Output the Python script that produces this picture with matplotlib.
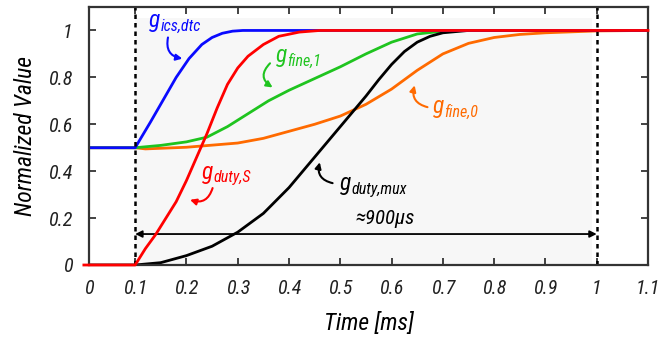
import matplotlib
matplotlib.use("Agg")
import matplotlib.pyplot as plt
from matplotlib.patches import Rectangle

FONT = ['Roboto Condensed', 'DejaVu Sans']
plt.rcParams['font.family'] = FONT
plt.rcParams['font.style'] = 'italic'

# ---- data (time in ms, normalized value) ----
t_ics = [0.0, 0.1, 0.13, 0.155, 0.18, 0.205, 0.23, 0.25, 0.27, 0.29, 0.31, 0.35, 1.1]
v_ics = [0.5, 0.5, 0.61, 0.705, 0.80, 0.88, 0.94, 0.97, 0.988, 0.997, 1.0, 1.0, 1.0]

t_dutyS = [0.0, 0.1, 0.12, 0.14, 0.16, 0.18, 0.2, 0.22, 0.24, 0.26, 0.28, 0.3, 0.32, 0.35, 0.38, 0.42, 0.46, 1.1]
v_dutyS = [0.0, 0.0, 0.07, 0.13, 0.20, 0.27, 0.36, 0.46, 0.56, 0.67, 0.77, 0.84, 0.89, 0.94, 0.975, 0.993, 1.0, 1.0]

t_fine1 = [0.0, 0.1, 0.15, 0.2, 0.24, 0.28, 0.32, 0.36, 0.4, 0.45, 0.5, 0.55, 0.6, 0.65, 0.7, 0.74, 1.1]
v_fine1 = [0.5, 0.5, 0.51, 0.525, 0.545, 0.59, 0.645, 0.70, 0.745, 0.795, 0.845, 0.90, 0.95, 0.985, 0.997, 1.0, 1.0]

t_fine0 = [0.0, 0.1, 0.12, 0.2, 0.3, 0.35, 0.4, 0.45, 0.5, 0.55, 0.6, 0.65, 0.7, 0.75, 0.8, 0.85, 0.9, 1.0, 1.1]
v_fine0 = [0.5, 0.5, 0.495, 0.502, 0.52, 0.54, 0.57, 0.60, 0.635, 0.685, 0.75, 0.83, 0.90, 0.945, 0.97, 0.983, 0.99, 0.998, 1.0]

t_mux = [0.0, 0.1, 0.15, 0.2, 0.25, 0.3, 0.35, 0.4, 0.45, 0.5, 0.55, 0.575, 0.6, 0.625, 0.65, 0.675, 0.7, 0.75, 1.1]
v_mux = [0.0, 0.0, 0.01, 0.04, 0.08, 0.14, 0.22, 0.33, 0.46, 0.59, 0.72, 0.79, 0.855, 0.91, 0.95, 0.975, 0.99, 1.0, 1.0]

x_ticks = [0.01, 0.1, 0.2, 0.3, 0.4, 0.5, 0.6, 0.7, 0.8, 0.9, 1.0, 1.1]
x_labels = ['0', '0.1', '0.2', '0.3', '0.4', '0.5', '0.6', '0.7', '0.8', '0.9', '1', '1.1']
y_ticks = [0, 0.2, 0.4, 0.6, 0.8, 1.0]
y_labels = ['0', '0.2', '0.4', '0.6', '0.8', '1']

t_start, t_end = 0.1, 1.0

C_BLUE, C_GREEN, C_ORANGE, C_RED = '#0a0aff', '#1fc41f', '#ff6a00', '#ff0000'

fig = plt.figure(figsize=(6.59, 3.39), dpi=100)
ax = fig.add_axes([89/659, 1-265/339, (648-89)/659, (265-7)/339])

ax.add_patch(Rectangle((t_start, 0), 0.99 - t_start, 1.055,
                       facecolor='#f7f7f7', edgecolor='none', zorder=0))

lw = 2.0
ax.plot(t_fine0, v_fine0, color=C_ORANGE, lw=lw, zorder=3)
ax.plot(t_fine1, v_fine1, color=C_GREEN, lw=lw, zorder=3)
ax.plot(t_mux, v_mux, color='black', lw=lw, zorder=3)
ax.plot(t_ics, v_ics, color=C_BLUE, lw=lw, zorder=4)
ax.plot(t_dutyS, v_dutyS, color=C_RED, lw=lw, zorder=9, clip_on=False)

for tx in (t_start, t_end):
    ax.axvline(tx, color='black', lw=1.8, ls=(0, (1.8, 1.6)), zorder=6)

ax.set_xlim(0.01, 1.1)
ax.set_ylim(0, 1.1)
ax.set_xticks(x_ticks)
ax.set_xticklabels(x_labels)
ax.set_yticks(y_ticks)
ax.set_yticklabels(y_labels)
ax.tick_params(direction='in', top=True, right=True, length=5, width=1.2,
               labelsize=14.5, colors='#222222')
ax.tick_params(axis='x', pad=10)
ax.tick_params(axis='y', pad=12)
for s in ax.spines.values():
    s.set_linewidth(1.6)
    s.set_color('#333333')
    s.set_zorder(7)

ax.set_xlabel('Time [ms]', fontsize=17, labelpad=10)
ax.set_ylabel('Normalized Value', fontsize=17, labelpad=8)

def glabel(x, y, sub, color):
    g = ax.text(x, y, 'g', color=color, fontsize=17, ha='left', va='baseline', zorder=8)
    ax.annotate(sub, xy=(1.0, 0.0), xycoords=g, xytext=(0.3, 1.2),
                textcoords='offset points', color=color, fontsize=11.5,
                ha='left', va='baseline', zorder=8)

glabel(0.127, 1.013, 'ics,dtc', C_BLUE)
glabel(0.374, 0.864, 'fine,1', C_GREEN)
glabel(0.680, 0.647, 'fine,0', C_ORANGE)
glabel(0.230, 0.366, 'duty,S', C_RED)
glabel(0.499, 0.319, 'duty,mux', 'black')
ax.text(0.587, 0.176, '≈900µs', color='black', fontsize=15, ha='center', va='baseline', zorder=8)

def carrow(p0, p1, color, rad):
    ax.annotate('', xy=p1, xytext=p0,
                arrowprops=dict(arrowstyle='-|>', color=color, lw=1.5,
                                mutation_scale=9, shrinkA=0, shrinkB=0,
                                connectionstyle=f'arc3,rad={rad}'), zorder=8)

carrow((0.164, 0.97), (0.192, 0.88), C_BLUE, 0.5)
carrow((0.363, 0.86), (0.368, 0.757), C_GREEN, 0.6)
carrow((0.670, 0.673), (0.645, 0.766), C_ORANGE, -0.5)
carrow((0.251, 0.328), (0.207, 0.278), C_RED, -0.5)
carrow((0.485, 0.349), (0.460, 0.438), 'black', -0.5)

ax.annotate('', xy=(t_start, 0.132), xytext=(t_end, 0.132),
            arrowprops=dict(arrowstyle='<|-|>', color='black', lw=1.3,
                            mutation_scale=10, shrinkA=0, shrinkB=0), zorder=8)

fig.savefig('out.png', dpi=100)
